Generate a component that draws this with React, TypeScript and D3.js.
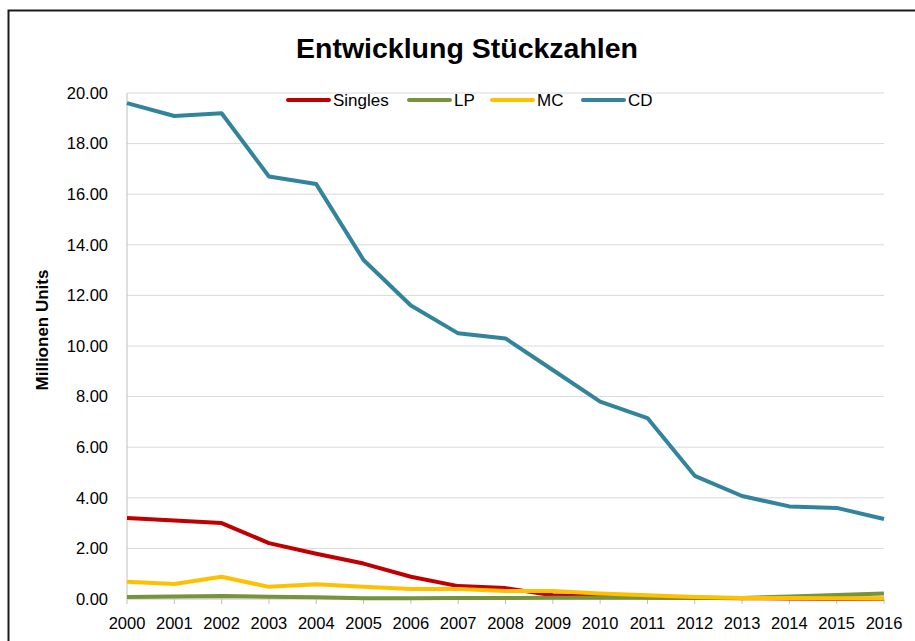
import React from "react";
import * as d3 from "d3";

const years = [2000, 2001, 2002, 2003, 2004, 2005, 2006, 2007, 2008, 2009, 2010, 2011, 2012, 2013, 2014, 2015, 2016];
const singles = [3.2, 3.1, 3.0, 2.21, 1.79, 1.4, 0.88, 0.51, 0.43, 0.15, 0.1, 0.07, 0.05, 0.03, 0.02, 0.01, 0.01];
const lp = [0.08, 0.1, 0.12, 0.09, 0.07, 0.03, 0.03, 0.04, 0.04, 0.05, 0.05, 0.05, 0.05, 0.04, 0.1, 0.16, 0.22];
const mc = [0.68, 0.59, 0.88, 0.48, 0.58, 0.48, 0.4, 0.4, 0.32, 0.32, 0.22, 0.15, 0.08, 0.04, 0.04, 0.03, 0.02];
const cd = [19.6, 19.09, 19.2, 16.7, 16.4, 13.4, 11.6, 10.5, 10.3, 9.05, 7.8, 7.15, 4.87, 4.07, 3.66, 3.6, 3.16];
const yTicks = [0, 2, 4, 6, 8, 10, 12, 14, 16, 18, 20];

const series = [
  { name: "Singles", values: singles, color: "#C00000" },
  { name: "LP", values: lp, color: "#77933C" },
  { name: "MC", values: mc, color: "#FFC000" },
  { name: "CD", values: cd, color: "#31849B" },
];

// legend item x positions (line start)
const legendX = [288, 409, 492, 583];

const font = "'Liberation Sans', Arial, sans-serif";

export default function App() {
  const left = 127;
  const right = 884;
  const top = 93;
  const bottom = 599;

  const x = d3.scalePoint<number>().domain(years).range([left, right]);
  const y = d3.scaleLinear().domain([0, 20]).range([bottom, top]);
  const line = d3
    .line<number>()
    .x((d, i) => x(years[i]) as number)
    .y((d) => y(d));

  return (
    <svg
      width={915}
      height={641}
      style={{ position: "absolute", left: 0, top: 0, background: "#fff" }}
      fontFamily={font}
    >
      <rect x={8.5} y={10.5} width={1000} height={700} fill="none" stroke="#1a1a1a" strokeWidth={2} />
      <text x={467} y={58} textAnchor="middle" fontSize={28.5} fontWeight="bold" fill="#000">
        Entwicklung Stückzahlen
      </text>

      {yTicks.map((t) => (
        <g key={t}>
          {t > 0 && (
            <line x1={left} x2={right} y1={y(t)} y2={y(t)} stroke="#d9d9d9" strokeWidth={1} />
          )}
          <text x={108} y={y(t)} dy="0.35em" textAnchor="end" fontSize={16.5} fill="#000">
            {t.toFixed(2)}
          </text>
        </g>
      ))}

      <line x1={left} x2={left} y1={top} y2={bottom} stroke="#bfbfbf" />
      <line x1={left} x2={right} y1={bottom} y2={bottom} stroke="#bfbfbf" />
      {years.map((yr) => (
        <g key={yr}>
          <line x1={x(yr)} x2={x(yr)} y1={bottom} y2={bottom + 5} stroke="#bfbfbf" />
          <text x={x(yr)} y={629} textAnchor="middle" fontSize={16.5} fill="#000">
            {yr}
          </text>
        </g>
      ))}

      <text
        transform="translate(48,330) rotate(-90)"
        textAnchor="middle"
        fontSize={17}
        fontWeight="bold"
        fill="#000"
      >
        Millionen Units
      </text>

      {series.map((s) => (
        <path
          key={s.name}
          d={line(s.values) || ""}
          fill="none"
          stroke={s.color}
          strokeWidth={4}
          strokeLinejoin="round"
        />
      ))}

      {series.map((s, i) => (
        <g key={s.name}>
          <line
            x1={legendX[i]}
            x2={legendX[i] + 41}
            y1={100}
            y2={100}
            stroke={s.color}
            strokeWidth={4}
            strokeLinecap="round"
          />
          <text x={legendX[i] + 45} y={100} dy="0.35em" fontSize={17} fill="#000">
            {s.name}
          </text>
        </g>
      ))}
    </svg>
  );
}
